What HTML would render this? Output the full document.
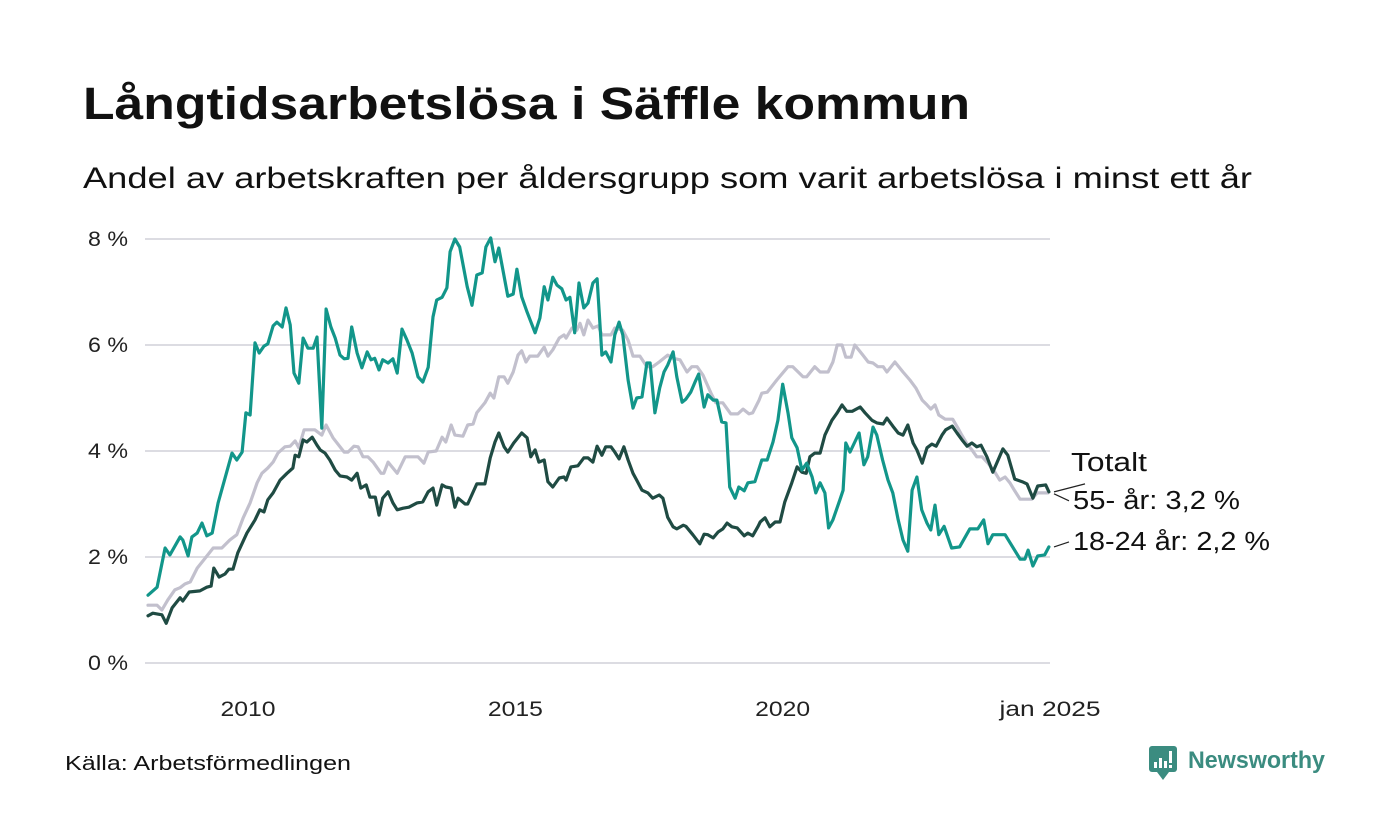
<!DOCTYPE html>
<html><head><meta charset="utf-8">
<style>
body{margin:0;background:#fff;}
svg{display:block;font-family:"Liberation Sans",sans-serif;}
</style></head>
<body>
<svg id="chart" width="1400" height="840" viewBox="0 0 1400 840">
<text x="83" y="119" font-size="45" font-weight="bold" fill="#111" textLength="887" lengthAdjust="spacingAndGlyphs">Långtidsarbetslösa i Säffle kommun</text>
<text x="83" y="188" font-size="30" fill="#111" textLength="1169" lengthAdjust="spacingAndGlyphs">Andel av arbetskraften per åldersgrupp som varit arbetslösa i minst ett år</text>
<g id="grid"></g>
<g id="xaxis"></g>
<g id="series"></g>
<g id="labels"></g>
<text x="65" y="770" font-size="20" fill="#111" textLength="286" lengthAdjust="spacingAndGlyphs">Källa: Arbetsförmedlingen</text>
<g>
<rect x="1149" y="746" width="28" height="26" rx="3" fill="#3b8c80"/>
<path d="M1157 772 L1163 780 L1169 772 Z" fill="#3b8c80"/>
<rect x="1154" y="762" width="3" height="6" fill="#fff"/>
<rect x="1159" y="758" width="3" height="10" fill="#fff"/>
<rect x="1164" y="761" width="3" height="7" fill="#fff"/>
<rect x="1169" y="751" width="3" height="12" fill="#fff"/>
<rect x="1169" y="765" width="3" height="3" fill="#fff"/>
<text x="1188" y="768" font-size="24" font-weight="bold" fill="#3b8c80" textLength="137" lengthAdjust="spacingAndGlyphs">Newsworthy</text>
</g>
</svg>
<script>
const yTicks=[0,2,4,6,8];
const yTickLabels=["0 %","2 %","4 %","6 %","8 %"];
const xTicks=[2010,2015,2020,2025.0];
const xTickLabels=["2010","2015","2020","jan 2025"];
const seriesNames=["Totalt","55- år: 3,2 %","18-24 år: 2,2 %"];

const youthDates=[2008.13,2008.30,2008.45,2008.54,2008.73,2008.78,2008.88,2008.95,2009.05,2009.14,2009.23,2009.33,2009.44,2009.70,2009.79,2009.89,2009.96,2010.04,2010.13,2010.21,2010.30,2010.37,2010.47,2010.54,2010.64,2010.71,2010.79,2010.86,2010.95,2011.03,2011.12,2011.22,2011.29,2011.38,2011.46,2011.55,2011.63,2011.72,2011.80,2011.87,2011.94,2012.04,2012.13,2012.23,2012.30,2012.37,2012.45,2012.52,2012.62,2012.71,2012.79,2012.88,2012.97,2013.07,2013.18,2013.27,2013.37,2013.46,2013.53,2013.63,2013.72,2013.78,2013.87,2013.96,2014.10,2014.19,2014.28,2014.38,2014.45,2014.54,2014.62,2014.69,2014.86,2014.96,2015.03,2015.12,2015.22,2015.37,2015.46,2015.54,2015.61,2015.70,2015.78,2015.87,2015.95,2016.02,2016.11,2016.19,2016.28,2016.36,2016.45,2016.53,2016.62,2016.69,2016.79,2016.86,2016.94,2017.01,2017.11,2017.20,2017.27,2017.37,2017.46,2017.52,2017.61,2017.70,2017.78,2017.85,2017.95,2018.02,2018.12,2018.19,2018.28,2018.36,2018.43,2018.53,2018.60,2018.70,2018.77,2018.86,2018.94,2019.01,2019.11,2019.18,2019.28,2019.35,2019.48,2019.61,2019.71,2019.82,2019.91,2020.00,2020.10,2020.17,2020.27,2020.36,2020.45,2020.55,2020.62,2020.70,2020.79,2020.86,2020.94,2021.07,2021.13,2021.18,2021.26,2021.35,2021.43,2021.52,2021.59,2021.69,2021.76,2021.87,2021.97,2022.06,2022.16,2022.25,2022.34,2022.42,2022.51,2022.60,2022.70,2022.77,2022.85,2022.92,2023.02,2023.16,2023.31,2023.50,2023.65,2023.76,2023.84,2023.93,2024.16,2024.44,2024.53,2024.59,2024.68,2024.77,2024.90,2024.98];
const youthValues=[1.28,1.43,2.17,2.04,2.38,2.32,2.02,2.38,2.45,2.64,2.40,2.45,3.02,3.96,3.83,3.98,4.72,4.68,6.04,5.85,5.98,6.02,6.36,6.43,6.34,6.70,6.38,5.47,5.28,6.13,5.94,5.94,6.15,4.43,6.68,6.34,6.13,5.81,5.74,5.75,6.34,5.85,5.57,5.87,5.72,5.75,5.53,5.72,5.66,5.74,5.47,6.30,6.10,5.85,5.40,5.30,5.58,6.53,6.85,6.90,7.08,7.76,8.00,7.85,7.10,6.75,7.32,7.36,7.85,8.02,7.57,7.83,6.92,6.96,7.43,6.91,6.62,6.23,6.51,7.10,6.85,7.28,7.13,7.06,6.85,6.90,6.23,7.17,6.70,6.79,7.17,7.25,5.81,5.87,5.68,6.19,6.43,6.19,5.34,4.81,5.00,5.02,5.66,5.66,4.72,5.19,5.49,5.62,5.87,5.40,4.92,4.98,5.11,5.30,5.45,4.83,5.06,4.96,4.96,4.55,4.53,3.32,3.11,3.32,3.25,3.40,3.42,3.83,3.83,4.17,4.58,5.26,4.72,4.25,4.06,3.64,3.77,3.51,3.21,3.40,3.21,2.55,2.70,3.08,3.26,4.15,3.98,4.17,4.34,3.74,3.89,4.45,4.30,3.83,3.45,3.21,2.70,2.32,2.11,3.26,3.51,2.89,2.64,2.51,2.98,2.42,2.58,2.17,2.19,2.53,2.53,2.70,2.25,2.42,2.42,1.96,1.96,2.13,1.83,2.02,2.04,2.19];

const seniorDates=[2008.13,2008.22,2008.39,2008.47,2008.58,2008.73,2008.78,2008.90,2009.10,2009.23,2009.31,2009.36,2009.46,2009.57,2009.64,2009.72,2009.81,2009.98,2010.13,2010.22,2010.30,2010.37,2010.47,2010.60,2010.73,2010.84,2010.88,2010.95,2011.03,2011.10,2011.20,2011.29,2011.35,2011.44,2011.53,2011.63,2011.72,2011.85,2011.94,2012.04,2012.11,2012.21,2012.28,2012.38,2012.45,2012.52,2012.62,2012.71,2012.79,2012.90,2013.01,2013.16,2013.27,2013.37,2013.46,2013.53,2013.63,2013.70,2013.80,2013.87,2013.93,2014.06,2014.11,2014.28,2014.43,2014.53,2014.62,2014.69,2014.79,2014.86,2014.97,2015.12,2015.22,2015.29,2015.37,2015.44,2015.54,2015.61,2015.70,2015.82,2015.91,2015.95,2016.04,2016.17,2016.28,2016.36,2016.45,2016.53,2016.62,2016.69,2016.79,2016.86,2016.94,2017.03,2017.11,2017.20,2017.27,2017.37,2017.48,2017.57,2017.69,2017.76,2017.85,2017.95,2018.02,2018.14,2018.19,2018.32,2018.45,2018.53,2018.60,2018.70,2018.79,2018.88,2018.96,2019.05,2019.15,2019.28,2019.35,2019.44,2019.54,2019.58,2019.67,2019.76,2019.86,2019.95,2020.04,2020.17,2020.27,2020.36,2020.44,2020.51,2020.60,2020.70,2020.79,2020.92,2021.02,2021.11,2021.20,2021.30,2021.45,2021.54,2021.67,2021.76,2021.88,2021.95,2022.06,2022.16,2022.25,2022.34,2022.44,2022.51,2022.61,2022.70,2022.79,2022.87,2022.98,2023.05,2023.17,2023.26,2023.37,2023.45,2023.54,2023.63,2023.71,2023.82,2023.93,2024.03,2024.12,2024.21,2024.34,2024.48,2024.57,2024.68,2024.77,2024.92,2024.98];
const seniorValues=[0.89,0.94,0.91,0.75,1.04,1.23,1.17,1.34,1.36,1.43,1.45,1.79,1.62,1.68,1.77,1.77,2.08,2.45,2.70,2.89,2.85,3.08,3.21,3.45,3.58,3.68,3.92,3.89,4.21,4.17,4.26,4.11,4.02,3.96,3.83,3.64,3.53,3.51,3.45,3.58,3.30,3.36,3.13,3.13,2.79,3.11,3.23,3.02,2.89,2.92,2.94,3.02,3.04,3.23,3.30,2.98,3.36,3.32,3.30,2.94,3.11,3.00,3.00,3.38,3.38,3.87,4.17,4.34,4.08,3.98,4.15,4.34,4.25,3.89,4.02,3.79,3.83,3.42,3.32,3.49,3.51,3.45,3.70,3.72,3.87,3.87,3.79,4.09,3.92,4.08,4.08,3.98,3.85,4.08,3.83,3.58,3.45,3.26,3.21,3.11,3.17,3.11,2.75,2.57,2.53,2.60,2.58,2.42,2.25,2.43,2.42,2.36,2.47,2.53,2.64,2.57,2.55,2.40,2.45,2.40,2.58,2.66,2.74,2.57,2.66,2.66,3.04,3.40,3.70,3.60,3.58,3.89,3.96,3.96,4.30,4.58,4.72,4.87,4.75,4.75,4.83,4.72,4.58,4.53,4.51,4.62,4.47,4.34,4.30,4.49,4.15,4.02,3.77,4.06,4.13,4.09,4.30,4.40,4.47,4.34,4.19,4.09,4.15,4.08,4.11,3.89,3.60,3.83,4.04,3.92,3.47,3.42,3.38,3.11,3.34,3.36,3.23];

const totalDates=[2008.13,2008.30,2008.39,2008.50,2008.63,2008.73,2008.82,2008.92,2009.05,2009.20,2009.35,2009.51,2009.66,2009.79,2009.91,2010.04,2010.17,2010.26,2010.37,2010.47,2010.56,2010.69,2010.79,2010.88,2010.95,2011.05,2011.25,2011.38,2011.46,2011.59,2011.80,2011.87,2011.98,2012.06,2012.15,2012.24,2012.34,2012.49,2012.54,2012.62,2012.79,2012.94,2013.18,2013.29,2013.37,2013.52,2013.63,2013.70,2013.80,2013.87,2014.02,2014.11,2014.21,2014.28,2014.43,2014.53,2014.60,2014.69,2014.79,2014.86,2014.96,2015.05,2015.12,2015.20,2015.27,2015.42,2015.54,2015.61,2015.70,2015.82,2015.91,2015.95,2016.06,2016.15,2016.21,2016.28,2016.36,2016.45,2016.55,2016.62,2016.79,2016.86,2017.01,2017.11,2017.20,2017.33,2017.46,2017.57,2017.69,2017.85,2017.95,2018.08,2018.21,2018.30,2018.40,2018.51,2018.66,2018.75,2018.88,2019.03,2019.16,2019.26,2019.37,2019.44,2019.56,2019.61,2019.71,2019.89,2020.10,2020.19,2020.38,2020.45,2020.60,2020.70,2020.85,2020.94,2021.02,2021.11,2021.18,2021.28,2021.35,2021.50,2021.60,2021.69,2021.78,2021.88,2021.95,2022.10,2022.25,2022.38,2022.49,2022.61,2022.70,2022.77,2022.85,2022.92,2023.04,2023.18,2023.28,2023.35,2023.45,2023.54,2023.63,2023.73,2023.84,2023.97,2024.06,2024.16,2024.25,2024.34,2024.44,2024.66,2024.76,2024.96];
const totalValues=[1.09,1.09,1.00,1.19,1.38,1.42,1.49,1.53,1.79,1.98,2.17,2.17,2.32,2.42,2.74,3.02,3.40,3.58,3.68,3.79,3.96,4.08,4.09,4.19,4.06,4.40,4.40,4.30,4.49,4.25,3.98,3.98,4.09,4.08,3.89,3.89,3.79,3.58,3.58,3.79,3.58,3.89,3.89,3.77,3.98,4.00,4.26,4.17,4.49,4.30,4.28,4.49,4.51,4.72,4.91,5.09,5.00,5.40,5.40,5.28,5.49,5.81,5.89,5.68,5.79,5.79,5.96,5.79,5.91,6.13,6.19,6.13,6.32,6.28,6.41,6.19,6.47,6.32,6.36,6.19,6.19,6.32,6.28,6.09,5.79,5.79,5.59,5.59,5.68,5.81,5.75,5.72,5.49,5.59,5.59,5.43,5.09,4.91,4.91,4.70,4.70,4.79,4.70,4.72,4.96,5.09,5.11,5.34,5.59,5.59,5.40,5.40,5.59,5.49,5.49,5.68,6.00,6.00,5.77,5.77,6.00,5.81,5.68,5.66,5.59,5.59,5.49,5.68,5.49,5.34,5.19,4.96,4.87,4.79,4.87,4.68,4.60,4.60,4.43,4.30,4.13,4.02,3.89,3.89,3.77,3.60,3.45,3.51,3.40,3.25,3.09,3.09,3.21,3.21];

const NS="http://www.w3.org/2000/svg";
const X0=145,X1=1050,Y0=663,Y1=239;
function xs(d){return 248+(d-2010)*(1050-248)/15;}
function ys(v){return Y0-(v-0)*(Y0-Y1)/8;}
function mk(tag,attrs,parent){const e=document.createElementNS(NS,tag);for(const k in attrs)e.setAttribute(k,attrs[k]);parent.appendChild(e);return e;}

const grid=document.getElementById('grid');
yTicks.forEach((t,i)=>{
  const l=mk('line',{x1:X0,x2:X1,y1:ys(t),y2:ys(t),stroke:'#dcdce2','stroke-width':2},grid);
  
  
  const tx=mk('text',{x:88,y:ys(t)+7,'font-size':21,fill:'#222',textLength:40,lengthAdjust:'spacingAndGlyphs'},grid);
  tx.textContent=yTickLabels[i];
  
  
});
const xa=document.getElementById('xaxis');
xTicks.forEach((t,i)=>{
  const w=xTickLabels[i].length>4?101:55;
  const tx=mk('text',{x:xs(t)-w/2,y:716,'font-size':21,fill:'#222',textLength:w,lengthAdjust:'spacingAndGlyphs'},xa);
  tx.textContent=xTickLabels[i];
  
  
});
const ser=document.getElementById('series');
function draw(dates,vals,color,name){
  const n=Math.min(dates.length,vals.length);
  let d='';
  for(let i=0;i<n;i++){d+=(i?'L':'M')+xs(dates[i]).toFixed(1)+' '+ys(vals[i]).toFixed(1);}
  const p=mk('path',{d:d,fill:'none',stroke:color,'stroke-width':3.2,'stroke-linejoin':'round','stroke-linecap':'round'},ser);
  
  
}
draw(totalDates,totalValues,'#c2c0cd','line-totalt');
draw(seniorDates,seniorValues,'#1f4b43','line-55-ar');
draw(youthDates,youthValues,'#12968a','line-18-24-ar');

const lab=document.getElementById('labels');
const lastT=totalValues[totalValues.length-1],lastS=seniorValues[seniorValues.length-1],lastY=youthValues[youthValues.length-1];
const labelY=[ys(lastT)-22,ys(lastS)+17,ys(lastY)+3];
const lastV=[lastT,lastS,lastY];
const labelW=[76,167,197];
[0,1,2].forEach(i=>{
  const ly=labelY[i];
  const l=mk('line',{x1:1054,y1:ys(lastV[i])+(i==0?-1:i==1?2:0),x2:i==0?1085:1069,y2:i==0?ly+13:ly-8,stroke:'#222','stroke-width':1.2},lab);
  
  
  const t=mk('text',{x:i==0?1071:1073,y:ly,'font-size':25.5,fill:'#111',textLength:labelW[i],lengthAdjust:'spacingAndGlyphs'},lab);
  t.textContent=seriesNames[i];
  
  
});
</script>
</body></html>
